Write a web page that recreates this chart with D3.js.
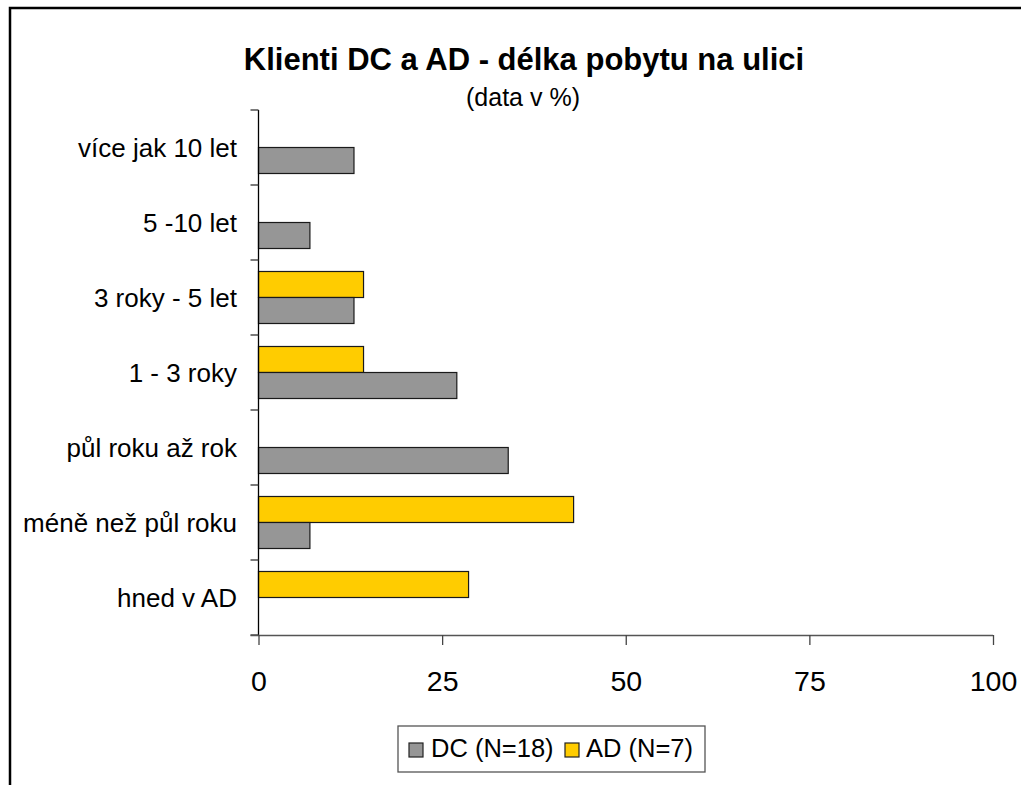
<!DOCTYPE html>
<html>
<head>
<meta charset="utf-8">
<script src="https://cdn.jsdelivr.net/npm/d3@7"></script>
<style>
  html, body { margin: 0; padding: 0; background: #fff; }
  svg { display: block; font-family: Arial, "Liberation Sans", sans-serif; }
</style>
</head>
<body>
<svg id="chart" width="1021" height="785"></svg>
<script>
const categories = ["více jak 10 let", "5 -10 let", "3 roky - 5 let", "1 - 3 roky", "půl roku až rok", "méně než půl roku", "hned v AD"];
const dcValues = [13, 7, 13, 27, 34, 7, 0];
const adValues = [0, 0, 14.3, 14.3, 0, 42.9, 28.6];
const seriesNames = ["DC (N=18)", "AD (N=7)"];
const xTicks = [0, 25, 50, 75, 100];
const titleText = "Klienti DC a AD - délka pobytu na ulici";
const subtitleText = "(data v %)";

const colors = { DC: "#969696", AD: "#FFCC00" };

const svg = d3.select("#chart");

// outer frame
svg.append("rect").attr("x", 10).attr("y", 8).attr("width", 1030).attr("height", 800)
  .attr("fill", "none").attr("stroke", "#000").attr("stroke-width", 2.5);

const x = d3.scaleLinear().domain([0, 100]).range([258.5, 993]);
const y = d3.scaleBand().domain(categories).range([110, 635]).padding(0);
const inner = d3.scaleBand().domain(["AD", "DC"]).range([0, y.bandwidth()]).paddingInner(0).paddingOuter(0.442);

const rows = categories.map((c, i) => ({ cat: c, DC: dcValues[i], AD: adValues[i] }));

// bars
const g = svg.append("g");
rows.forEach(r => {
  ["AD", "DC"].forEach(k => {
    if (r[k] > 0) {
      g.append("rect")
        .attr("x", x(0))
        .attr("y", y(r.cat) + inner(k))
        .attr("width", x(r[k]) - x(0))
        .attr("height", inner.bandwidth())
        .attr("fill", colors[k])
        .attr("stroke", "#1a1a1a")
        .attr("stroke-width", 1.2);
    }
  });
});

// y axis
const yAxisG = svg.append("g");
yAxisG.append("line").attr("x1", x(0)).attr("x2", x(0)).attr("y1", 110).attr("y2", 635)
  .attr("stroke", "#000").attr("stroke-width", 1.3);
const bounds = categories.map(c => y(c)).concat([y.range()[1]]);
bounds.forEach(b => {
  yAxisG.append("line").attr("x1", x(0) - 8).attr("x2", x(0)).attr("y1", b).attr("y2", b)
    .attr("stroke", "#333").attr("stroke-width", 1.3);
});
categories.forEach(c => {
  yAxisG.append("text").attr("x", 237).attr("y", y(c) + y.bandwidth() / 2).attr("dy", "0.35em")
    .attr("text-anchor", "end").attr("font-size", 26).attr("fill", "#000").text(c);
});

// x axis
const xAxis = d3.axisBottom(x).tickValues(xTicks).tickSize(10).tickPadding(0).tickSizeOuter(0);
const xg = svg.append("g").attr("transform", "translate(0,635)").call(xAxis);
xg.select(".domain").attr("stroke", "#555").attr("stroke-width", 1.3).attr("d", `M${x(0) - 8},0.5H${x(100)}`);
xg.selectAll(".tick line").attr("stroke", "#444").attr("stroke-width", 1.3);
xg.selectAll(".tick text").attr("font-size", 28.5).attr("font-family", "Arial, 'Liberation Sans', sans-serif")
  .attr("fill", "#000").attr("dy", null).attr("y", 56);

// title
svg.append("text").attr("x", 524).attr("y", 70).attr("text-anchor", "middle")
  .attr("font-size", 31).attr("font-weight", "bold").text(titleText);
svg.append("text").attr("x", 523).attr("y", 106).attr("text-anchor", "middle")
  .attr("font-size", 25).text(subtitleText);

// legend
const lg = svg.append("g");
lg.append("rect").attr("x", 398).attr("y", 726).attr("width", 307).attr("height", 46)
  .attr("fill", "#fff").attr("stroke", "#555").attr("stroke-width", 1.3);
const legendItems = [
  { key: "DC", name: seriesNames[0], sx: 409, tx: 431 },
  { key: "AD", name: seriesNames[1], sx: 565, tx: 586 }
];
legendItems.forEach(it => {
  lg.append("rect").attr("x", it.sx).attr("y", 743).attr("width", 14).attr("height", 14)
    .attr("fill", colors[it.key]).attr("stroke", "#222").attr("stroke-width", 1.2);
  lg.append("text").attr("x", it.tx).attr("y", 757).attr("font-size", 25.5).text(it.name);
});
</script>
</body>
</html>
